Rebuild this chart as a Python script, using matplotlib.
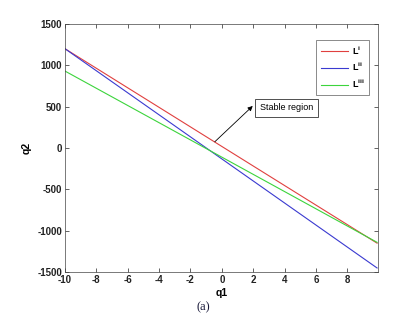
import matplotlib
matplotlib.use('Agg')
import matplotlib.pyplot as plt

# line endpoints: (q1, q2)
q1_ends = [-10, 9.9]
q2_Li = [1200, -1150]
q2_Lii = [1200, -1450]
q2_Liii = [930, -1140]
labels = [r'$\mathbf{L^{i}}$', r'$\mathbf{L^{ii}}$', r'$\mathbf{L^{iii}}$']
x_ticks = [-10, -8, -6, -4, -2, 0, 2, 4, 6, 8]
y_ticks = [-1500, -1000, -500, 0, 500, 1000, 1500]

plt.rcParams['font.family'] = ['Liberation Sans', 'DejaVu Sans']
plt.rcParams['axes.unicode_minus'] = False
plt.rcParams['mathtext.fontset'] = 'custom'
plt.rcParams['mathtext.bf'] = 'Liberation Sans:bold'
plt.rcParams['mathtext.rm'] = 'Liberation Sans'

fig = plt.figure(figsize=(3.94, 3.19), dpi=100)
ax = fig.add_axes([0.165, 0.147, 0.794, 0.778])

ax.plot(q1_ends, q2_Li, color='#e0403f', lw=0.8, label=labels[0])
ax.plot(q1_ends, q2_Lii, color='#3a3ad0', lw=0.8, label=labels[1])
ax.plot(q1_ends, q2_Liii, color='#3cd43c', lw=0.8, label=labels[2])

ax.set_xlim(-10, 9.95)
ax.set_ylim(-1500, 1500)
ax.set_xticks(x_ticks)
ax.set_yticks(y_ticks)
ax.tick_params(direction='in', length=3, width=0.5, labelsize=7,
               top=True, right=True, pad=2, colors='#222222')
for lab in ax.get_xticklabels() + ax.get_yticklabels():
    lab.set_fontweight('bold')
for s in ax.spines.values():
    s.set_linewidth(0.5)
    s.set_color('#444444')

ax.set_xlabel('q1', fontsize=7.5, fontweight='bold', labelpad=2)
ax.set_ylabel('q2', fontsize=7.5, fontweight='bold', labelpad=4)

ax.text(2.42, 484, 'Stable region', fontsize=6.5, va='center', ha='left',
        bbox=dict(boxstyle='square,pad=0.5', fc='white', ec='#333333', lw=0.6))
ax.annotate('', xy=(1.97, 508), xytext=(-0.45, 75),
            arrowprops=dict(arrowstyle='-|>', color='black', lw=0.6,
                            mutation_scale=7, shrinkA=0, shrinkB=0))

leg = ax.legend(loc='upper right', bbox_to_anchor=(0.985, 0.955), fontsize=6.5,
                frameon=True, fancybox=False, edgecolor='#555555',
                handlelength=3.0, handletextpad=0.4, borderpad=0.5,
                labelspacing=0.5)
leg.get_frame().set_linewidth(0.6)

fig.text(0.515, 0.038, '(a)', fontsize=9, family='Liberation Serif',
         ha='center', va='center', color='#1a1a3a')

fig.savefig('out.png', dpi=100)
